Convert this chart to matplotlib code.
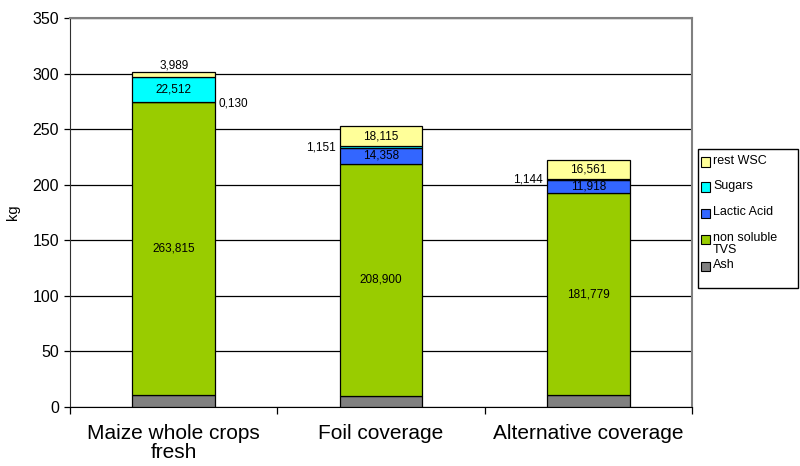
import matplotlib
matplotlib.use("Agg")
import matplotlib.pyplot as plt
from matplotlib.patches import Rectangle
import numpy as np

plt.rcParams['font.family'] = ['Liberation Sans', 'DejaVu Sans']

# data (kg); decimal comma labels as in the original
categories = ["Maize whole crops\nfresh", "Foil coverage", "Alternative coverage"]
ash = [10.9, 10.0, 10.5]
non_soluble_tvs = [263.815, 208.900, 181.779]
lactic_acid = [0.130, 14.358, 11.918]
sugars = [22.512, 1.151, 1.144]
rest_wsc = [3.989, 18.115, 16.561]

series_names = ["Ash", "non soluble TVS", "Lactic Acid", "Sugars", "rest WSC"]
series_vals = [ash, non_soluble_tvs, lactic_acid, sugars, rest_wsc]
colors = ["#808080", "#99CC00", "#3366FF", "#00FFFF", "#FFFF99"]
labelled = [False, True, True, True, True]

fig = plt.figure(figsize=(8.0, 4.66), dpi=100)
ax = fig.add_axes([70 / 800, 1 - 407 / 466, (692 - 70) / 800, (407 - 18) / 466])

x = np.arange(len(categories))
bw = 0.4
bottom = np.zeros(len(categories))
for name, vals, col, lab in zip(series_names, series_vals, colors, labelled):
    vals = np.array(vals)
    ax.bar(x, vals, bw, bottom=bottom, color=col, edgecolor="black", linewidth=0.9, zorder=3)
    if lab:
        for i, v in enumerate(vals):
            txt = ("%.3f" % v).replace(".", ",")
            mid = bottom[i] + v / 2
            if v >= 5:
                ax.text(x[i], mid, txt, ha="center", va="center", fontsize=8.5, zorder=4)
            elif name == "rest WSC":
                ax.text(x[i], bottom[i] + v + 0.8, txt, ha="center", va="bottom", fontsize=8.5, zorder=4)
            elif name == "Lactic Acid":
                ax.text(x[i] + bw / 2 + 0.015, mid - 2, txt, ha="left", va="center", fontsize=8.5, zorder=4)
            else:
                ax.text(x[i] - bw / 2 - 0.02, mid, txt, ha="right", va="center", fontsize=8.5, zorder=4)
    bottom += vals

ax.set_xlim(-0.5, 2.5)
ax.set_ylim(0, 350)
ax.set_yticks(np.arange(0, 351, 50))
ax.yaxis.grid(True, color="black", linewidth=0.9, zorder=1)
ax.set_axisbelow(True)

ax.set_xticks(x)
ax.set_xticklabels(categories, fontsize=15, linespacing=1.0)
ax.set_xticks([-0.5, 0.5, 1.5, 2.5], minor=True)
ax.tick_params(axis="x", which="major", length=0, pad=12)
ax.tick_params(axis="x", which="minor", length=5, width=0.9, direction="out")
ax.tick_params(axis="y", length=4, width=0.9, direction="out", labelsize=11.5, pad=4)
ax.set_ylabel("kg", fontsize=10.5, labelpad=9)

for s in ["top", "right"]:
    ax.spines[s].set_color("#808080")
    ax.spines[s].set_linewidth(1.5)
ax.spines["left"].set_color("#303030")
ax.spines["bottom"].set_color("black")

# legend box drawn like the original (entries at fixed spacing)
lx0, ly0, lx1, ly1 = 698 / 800, 1 - 288 / 466, 798 / 800, 1 - 149 / 466
fig.patches.append(Rectangle((lx0, ly0), lx1 - lx0, ly1 - ly0, transform=fig.transFigure,
                             facecolor="white", edgecolor="black", linewidth=1.0))
leg_labels = ["rest WSC", "Sugars", "Lactic Acid", "non soluble\nTVS", "Ash"]
leg_colors = ["#FFFF99", "#00FFFF", "#3366FF", "#99CC00", "#808080"]
leg_y = [162, 187, 213, 239, 266]
for lbl, col, yy in zip(leg_labels, leg_colors, leg_y):
    fy = 1 - yy / 466
    fig.patches.append(Rectangle((701 / 800, fy - 4.5 / 466), 9 / 800, 9 / 466, transform=fig.transFigure,
                                 facecolor=col, edgecolor="black", linewidth=0.8))
    fig.text(713 / 800, fy + 7 / 466, lbl, ha="left", va="top", fontsize=9, linespacing=0.95)

fig.savefig("out.png", dpi=100)
